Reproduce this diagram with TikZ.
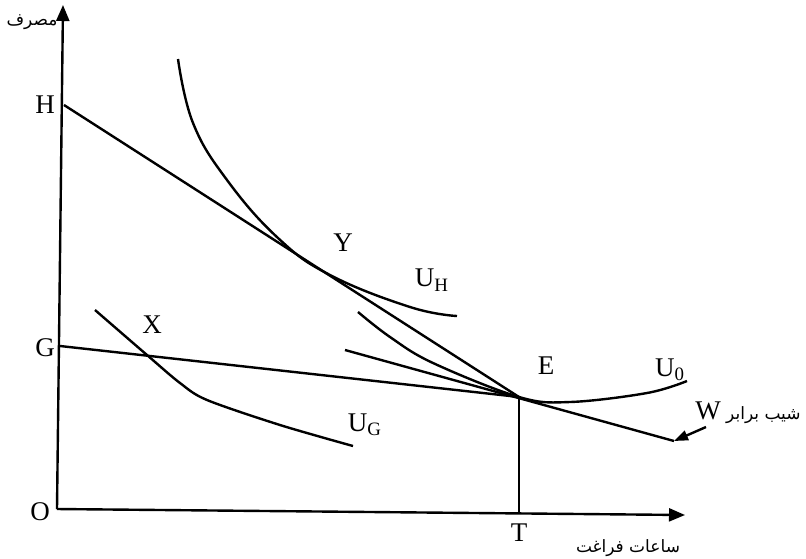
\documentclass[tikz,border=0pt]{standalone}
\usepackage{fontspec}
\setmainfont{Liberation Serif}
\newfontfamily\arabicfont[Script=Arabic]{DejaVu Sans}
\TeXXeTstate=1
\usetikzlibrary{arrows.meta}

\begin{document}
\begin{tikzpicture}[x=0.5pt,y=-0.5pt,
    curve/.style={line width=1.2pt, color=black},
    axis/.style={line width=1.2pt, color=black, -{Triangle[length=8pt,width=6.5pt]}},
    lbl/.style={font=\fontsize{13.5}{15}\selectfont, inner sep=0pt},
    farsi/.style={font=\arabicfont\fontsize{8.5}{10}\selectfont, inner sep=0pt}]

\useasboundingbox (0,0) rectangle (806,558);

\coordinate (O) at (57,509);
\coordinate (ytip) at (63,5);
\coordinate (xtip) at (685,515);
\coordinate (H) at (64,105);
\coordinate (G) at (60,346);
\coordinate (E) at (519,397);
\coordinate (T) at (519,514);
\coordinate (w1) at (345,350);
\coordinate (w2) at (674,441);
\coordinate (wfrom) at (706,427);

% axes
\draw[axis] (O) -- (ytip);
\draw[axis] (O) -- (xtip);

% budget lines
\draw[curve] (H) -- (E);
\draw[curve] (G) -- (E);
\draw[curve] (w1) -- (w2);
\draw[curve] (E) -- (T);

% indifference curves
\draw[curve] plot[smooth, tension=0.7] coordinates {(178,59) (193,123) (227,180) (278,238) (330,275) (410,307) (457,316)};
\draw[curve] plot[smooth, tension=0.6] coordinates {(358,312) (390,337) (433,363) (519,397) (570,402) (647,393) (687,381)};
\draw[curve] plot[smooth, tension=0.5] coordinates {(95,310) (147,355) (180,383) (207,400) (280,425) (353,446)};

% slope arrow
\draw[line width=1.2pt, -{Triangle[length=7pt,width=5pt]}] (wfrom) -- (w2);

% labels
\node[lbl] (lH) at (45,105) {H};
\node[lbl] (lG) at (45,348) {G};
\node[lbl] (lO) at (40,512) {O};
\node[lbl] (lT) at (519,533) {T};
\node[lbl] (lX) at (152,325) {X};
\node[lbl] (lY) at (343,243) {Y};
\node[lbl] (lE) at (546,366) {E};
\node[lbl] (lUH) at (432,280) {U\textsubscript{H}};
\node[lbl] (lUG) at (365,425) {U\textsubscript{G}};
\node[lbl] (lU0) at (670,370) {U\textsubscript{0}};
\node[farsi] (lcons) at (32,22) {\beginR مصرف\endR};
\node[farsi] (lleis) at (628,548) {\beginR ساعات فراغت\endR};
\node[farsi, anchor=east] (lslope) at (801,413) {\beginR شیب برابر {\rmfamily\fontsize{13.5}{15}\selectfont W}\endR};

\end{tikzpicture}
\end{document}
